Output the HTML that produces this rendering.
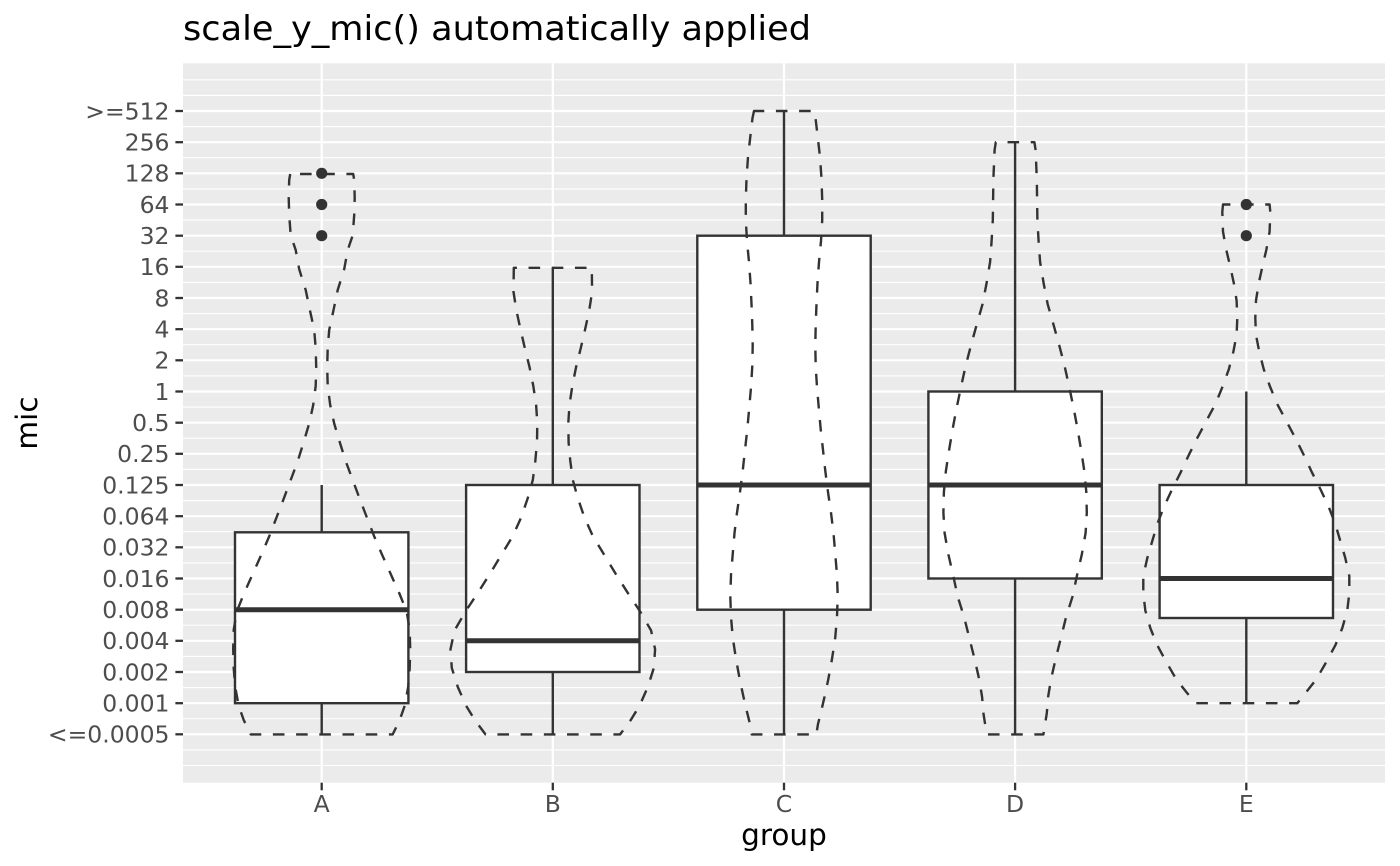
<!DOCTYPE html>
<html>
<head>
<meta charset="utf-8">
<style>
html,body{margin:0;padding:0;background:#fff;}
svg{display:block;}
text{font-family:"DejaVu Sans","Liberation Sans",sans-serif;}
</style>
</head>
<body>
<svg width="1400" height="866" viewBox="0 0 1400 866" xmlns="http://www.w3.org/2000/svg">
<rect x="0" y="0" width="1400" height="866" fill="#ffffff"/>
<!-- title -->
<text x="183" y="40" font-size="34" fill="#000" textLength="628" lengthAdjust="spacingAndGlyphs">scale_y_mic() automatically applied</text>

<!-- panel -->
<rect x="183" y="63.3" width="1202" height="719.4" fill="#EBEBEB"/>
<!-- minor grid -->
<g stroke="#ffffff" stroke-width="1.1">
<line x1="183" x2="1385" y1="79.8" y2="79.8"/>
<line x1="183" x2="1385" y1="95.4" y2="95.4"/>
<line x1="183" x2="1385" y1="126.6" y2="126.6"/>
<line x1="183" x2="1385" y1="157.7" y2="157.7"/>
<line x1="183" x2="1385" y1="188.9" y2="188.9"/>
<line x1="183" x2="1385" y1="220.1" y2="220.1"/>
<line x1="183" x2="1385" y1="251.2" y2="251.2"/>
<line x1="183" x2="1385" y1="282.4" y2="282.4"/>
<line x1="183" x2="1385" y1="313.6" y2="313.6"/>
<line x1="183" x2="1385" y1="344.7" y2="344.7"/>
<line x1="183" x2="1385" y1="375.9" y2="375.9"/>
<line x1="183" x2="1385" y1="407.1" y2="407.1"/>
<line x1="183" x2="1385" y1="438.2" y2="438.2"/>
<line x1="183" x2="1385" y1="469.4" y2="469.4"/>
<line x1="183" x2="1385" y1="500.6" y2="500.6"/>
<line x1="183" x2="1385" y1="531.7" y2="531.7"/>
<line x1="183" x2="1385" y1="562.9" y2="562.9"/>
<line x1="183" x2="1385" y1="594.1" y2="594.1"/>
<line x1="183" x2="1385" y1="625.2" y2="625.2"/>
<line x1="183" x2="1385" y1="656.4" y2="656.4"/>
<line x1="183" x2="1385" y1="687.6" y2="687.6"/>
<line x1="183" x2="1385" y1="718.7" y2="718.7"/>
<line x1="183" x2="1385" y1="749.9" y2="749.9"/>
<line x1="183" x2="1385" y1="765.5" y2="765.5"/>
</g>
<!-- major grid -->
<g stroke="#ffffff" stroke-width="2.2">
<line x1="183" x2="1385" y1="111.0" y2="111.0"/>
<line x1="183" x2="1385" y1="142.2" y2="142.2"/>
<line x1="183" x2="1385" y1="173.3" y2="173.3"/>
<line x1="183" x2="1385" y1="204.5" y2="204.5"/>
<line x1="183" x2="1385" y1="235.7" y2="235.7"/>
<line x1="183" x2="1385" y1="266.8" y2="266.8"/>
<line x1="183" x2="1385" y1="298.0" y2="298.0"/>
<line x1="183" x2="1385" y1="329.2" y2="329.2"/>
<line x1="183" x2="1385" y1="360.3" y2="360.3"/>
<line x1="183" x2="1385" y1="391.5" y2="391.5"/>
<line x1="183" x2="1385" y1="422.7" y2="422.7"/>
<line x1="183" x2="1385" y1="453.8" y2="453.8"/>
<line x1="183" x2="1385" y1="485.0" y2="485.0"/>
<line x1="183" x2="1385" y1="516.2" y2="516.2"/>
<line x1="183" x2="1385" y1="547.3" y2="547.3"/>
<line x1="183" x2="1385" y1="578.5" y2="578.5"/>
<line x1="183" x2="1385" y1="609.7" y2="609.7"/>
<line x1="183" x2="1385" y1="640.8" y2="640.8"/>
<line x1="183" x2="1385" y1="672.0" y2="672.0"/>
<line x1="183" x2="1385" y1="703.2" y2="703.2"/>
<line x1="183" x2="1385" y1="734.3" y2="734.3"/>
<line y1="63.3" y2="782.7" x1="321.7" x2="321.7"/>
<line y1="63.3" y2="782.7" x1="552.8" x2="552.8"/>
<line y1="63.3" y2="782.7" x1="784" x2="784"/>
<line y1="63.3" y2="782.7" x1="1015.1" x2="1015.1"/>
<line y1="63.3" y2="782.7" x1="1246.3" x2="1246.3"/>
</g>

<!-- boxplots -->
<g stroke="#333333" stroke-width="2.4" fill="#ffffff">
<!-- A -->
<line x1="321.7" x2="321.7" y1="485" y2="532.3"/>
<line x1="321.7" x2="321.7" y1="703.2" y2="734.3"/>
<rect x="235.0" y="532.3" width="173.4" height="170.9"/>
<line x1="235.0" x2="408.4" y1="609.7" y2="609.7" stroke-width="5"/>
<!-- B -->
<line x1="552.8" x2="552.8" y1="267.8" y2="485"/>
<line x1="552.8" x2="552.8" y1="672" y2="734.3"/>
<rect x="466.1" y="485" width="173.4" height="187"/>
<line x1="466.1" x2="639.5" y1="640.8" y2="640.8" stroke-width="5"/>
<!-- C -->
<line x1="784" x2="784" y1="111" y2="235.7"/>
<line x1="784" x2="784" y1="609.7" y2="734.3"/>
<rect x="697.3" y="235.7" width="173.4" height="374"/>
<line x1="697.3" x2="870.7" y1="485" y2="485" stroke-width="5"/>
<!-- D -->
<line x1="1015.1" x2="1015.1" y1="142.2" y2="391.5"/>
<line x1="1015.1" x2="1015.1" y1="578.5" y2="734.3"/>
<rect x="928.4" y="391.5" width="173.4" height="187"/>
<line x1="928.4" x2="1101.8" y1="485" y2="485" stroke-width="5"/>
<!-- E -->
<line x1="1246.3" x2="1246.3" y1="391.5" y2="485"/>
<line x1="1246.3" x2="1246.3" y1="618" y2="703.2"/>
<rect x="1159.6" y="485" width="173.4" height="133"/>
<line x1="1159.6" x2="1333" y1="578.5" y2="578.5" stroke-width="5"/>
</g>
<!-- outliers -->
<g fill="#333333">
<circle cx="321.7" cy="173.3" r="5.6"/>
<circle cx="321.7" cy="204.5" r="5.6"/>
<circle cx="321.7" cy="235.7" r="5.6"/>
<circle cx="1246.3" cy="204.5" r="5.6"/>
<circle cx="1246.3" cy="235.7" r="5.6"/>
</g>

<!-- violins -->
<g fill="none" stroke="#333333" stroke-width="2.4" stroke-dasharray="11.6 11.6" stroke-linejoin="round">
<path d="M290.2,174 L289.2,180 L288.7,197.7 L289.2,215 L290.7,235.3 L295.7,250 L299.2,269.2 L305.7,290 L310.0,310.6 L314.2,330 L315.7,348.3 L316.2,367 L315.7,385.9 L313.2,405 L309.2,423.5 L303.7,442 L297.7,461.2 L290.7,480 L283.7,498.8 L276.7,517 L269.2,536.4 L261.2,555 L252.7,574 L244.2,593 L236.7,611.7 L233.7,630 L233.2,649.3 L233.7,668 L235.2,686.9 L238.7,705.8 L243.7,720 L250.7,734.4 L392.7,734.4 L399.7,720 L404.7,705.8 L408.2,686.9 L409.7,668 L410.2,649.3 L409.7,630 L406.7,611.7 L399.2,593 L390.7,574 L382.2,555 L374.2,536.4 L366.7,517 L359.7,498.8 L352.7,480 L345.7,461.2 L339.7,442 L334.2,423.5 L330.2,405 L327.7,385.9 L327.2,367 L327.7,348.3 L329.2,330 L333.4,310.6 L337.7,290 L344.2,269.2 L347.7,250 L352.7,235.3 L354.2,215 L354.7,197.7 L354.2,180 L353.2,174 Z"/>
<path d="M513.8,267.8 L513.5,291.8 L516.3,310 L520.5,329.4 L524.8,348 L529.5,367 L533.3,386 L536.1,404.7 L537.3,423 L537.0,442.3 L535.3,461 L532.8,480 L527.8,498 L521.1,517.6 L512.8,536 L501.1,555.3 L489.8,574 L477.8,592.9 L465.8,611 L454.5,630.5 L450.5,649.3 L451.8,668 L457.8,687 L466.1,705.8 L474.8,720 L485.5,734.4 L620.1,734.4 L630.8,720 L639.5,705.8 L647.8,687 L653.8,668 L655.1,649.3 L651.1,630.5 L639.8,611 L627.8,592.9 L615.8,574 L604.5,555.3 L592.8,536 L584.5,517.6 L577.8,498 L572.8,480 L570.3,461 L568.6,442.3 L568.3,423 L569.5,404.7 L572.3,386 L576.1,367 L580.8,348 L585.1,329.4 L589.3,310 L592.1,291.8 L591.8,267.8 Z"/>
<path d="M754,111 L752.5,118 L750.3,136.8 L748,157 L746.5,178.5 L745.8,200 L745.8,220.3 L747,241 L749,262 L750.5,283 L751.5,303.9 L752.3,325 L752.7,345.6 L752.3,366 L751,387.4 L749.2,408 L747.3,429.2 L745,450 L742.7,470.9 L740,492 L737,512.7 L734.5,533 L732.7,554.5 L731,575 L730.3,596.3 L731,617 L732.8,638 L736,659 L739.8,679.8 L743.5,697 L747.3,713.2 L750,724 L751.7,734.4 L816.3,734.4 L818,724 L820.7,713.2 L824.5,697 L828.2,679.8 L832,659 L835.2,638 L837,617 L837.7,596.3 L837,575 L835.3,554.5 L833.5,533 L831,512.7 L828,492 L825.3,470.9 L823,450 L820.7,429.2 L818.8,408 L817,387.4 L815.7,366 L815.3,345.6 L815.7,325 L816.5,303.9 L817.5,283 L819,262 L821,241 L822.2,220.3 L822.2,200 L821.5,178.5 L820,157 L817.7,136.8 L815.5,118 L814,111 Z"/>
<path d="M995.8,142.2 L994.6,150 L993.4,178.5 L993.1,200 L992.8,220.3 L991.6,241 L990.1,262 L986.6,283 L982.6,303.9 L976.6,325 L970.9,345.6 L965.6,366 L960.9,387.4 L956.6,408 L952.6,429.2 L949.1,450 L945.9,470.9 L943.9,492 L943.4,512.7 L944.6,533 L948.4,554.5 L953.1,575 L957.6,596.3 L964.1,617 L969.3,638 L974.6,659 L979.3,679.8 L982.1,697 L983.4,713.2 L985.1,724 L986.8,734.4 L1043.4,734.4 L1045.1,724 L1046.8,713.2 L1048.1,697 L1050.9,679.8 L1055.6,659 L1060.9,638 L1066.1,617 L1072.6,596.3 L1077.1,575 L1081.8,554.5 L1085.6,533 L1086.8,512.7 L1086.3,492 L1084.3,470.9 L1081.1,450 L1077.6,429.2 L1073.6,408 L1069.3,387.4 L1064.6,366 L1059.3,345.6 L1053.6,325 L1047.6,303.9 L1043.6,283 L1040.1,262 L1038.6,241 L1037.4,220.3 L1037.1,200 L1036.8,178.5 L1035.6,150 L1034.4,142.2 Z"/>
<path d="M1223,204.5 L1222.3,212 L1223,231.7 L1226.3,250 L1230.1,266 L1233.8,283 L1236.6,300.5 L1237.3,318 L1236.6,335 L1233.3,352 L1228.8,369.4 L1222.8,386 L1215.5,403.8 L1206.3,421 L1197.1,438.3 L1188.8,455 L1180.5,472.7 L1171.8,490 L1163.8,507.1 L1157.3,524 L1152.1,541.6 L1147.3,558 L1143.3,576 L1143.3,593 L1145.3,610.4 L1150.3,628 L1157.1,644.9 L1166.3,662 L1176.3,679.3 L1186.3,692 L1195.3,703.2 L1297.3,703.2 L1306.3,692 L1316.3,679.3 L1326.3,662 L1335.5,644.9 L1342.3,628 L1347.3,610.4 L1349.3,593 L1349.3,576 L1345.3,558 L1340.5,541.6 L1335.3,524 L1328.8,507.1 L1320.8,490 L1312.1,472.7 L1303.8,455 L1295.5,438.3 L1286.3,421 L1277.1,403.8 L1269.8,386 L1263.8,369.4 L1259.3,352 L1256,335 L1255.3,318 L1256,300.5 L1258.8,283 L1262.5,266 L1266.3,250 L1269.6,231.7 L1270.3,212 L1269.6,204.5 Z"/>
</g>

<!-- axis ticks -->
<g stroke="#333333" stroke-width="2.3">
<line x1="175.4" x2="183" y1="111.0" y2="111.0"/>
<line x1="175.4" x2="183" y1="142.2" y2="142.2"/>
<line x1="175.4" x2="183" y1="173.3" y2="173.3"/>
<line x1="175.4" x2="183" y1="204.5" y2="204.5"/>
<line x1="175.4" x2="183" y1="235.7" y2="235.7"/>
<line x1="175.4" x2="183" y1="266.8" y2="266.8"/>
<line x1="175.4" x2="183" y1="298.0" y2="298.0"/>
<line x1="175.4" x2="183" y1="329.2" y2="329.2"/>
<line x1="175.4" x2="183" y1="360.3" y2="360.3"/>
<line x1="175.4" x2="183" y1="391.5" y2="391.5"/>
<line x1="175.4" x2="183" y1="422.7" y2="422.7"/>
<line x1="175.4" x2="183" y1="453.8" y2="453.8"/>
<line x1="175.4" x2="183" y1="485.0" y2="485.0"/>
<line x1="175.4" x2="183" y1="516.2" y2="516.2"/>
<line x1="175.4" x2="183" y1="547.3" y2="547.3"/>
<line x1="175.4" x2="183" y1="578.5" y2="578.5"/>
<line x1="175.4" x2="183" y1="609.7" y2="609.7"/>
<line x1="175.4" x2="183" y1="640.8" y2="640.8"/>
<line x1="175.4" x2="183" y1="672.0" y2="672.0"/>
<line x1="175.4" x2="183" y1="703.2" y2="703.2"/>
<line x1="175.4" x2="183" y1="734.3" y2="734.3"/>
<line y1="782.7" y2="790.3" x1="321.7" x2="321.7"/>
<line y1="782.7" y2="790.3" x1="552.8" x2="552.8"/>
<line y1="782.7" y2="790.3" x1="784" x2="784"/>
<line y1="782.7" y2="790.3" x1="1015.1" x2="1015.1"/>
<line y1="782.7" y2="790.3" x1="1246.3" x2="1246.3"/>
</g>

<!-- y tick labels -->
<g font-size="23.5" fill="#4D4D4D" text-anchor="end">
<text x="169.5" y="119.3">&gt;=512</text>
<text x="169.5" y="150.5">256</text>
<text x="169.5" y="181.6">128</text>
<text x="169.5" y="212.8">64</text>
<text x="169.5" y="244.0">32</text>
<text x="169.5" y="275.1">16</text>
<text x="169.5" y="306.3">8</text>
<text x="169.5" y="337.5">4</text>
<text x="169.5" y="368.6">2</text>
<text x="169.5" y="399.8">1</text>
<text x="169.5" y="431.0">0.5</text>
<text x="169.5" y="462.1">0.25</text>
<text x="169.5" y="493.3">0.125</text>
<text x="169.5" y="524.5">0.064</text>
<text x="169.5" y="555.6">0.032</text>
<text x="169.5" y="586.8">0.016</text>
<text x="169.5" y="618.0">0.008</text>
<text x="169.5" y="649.1">0.004</text>
<text x="169.5" y="680.3">0.002</text>
<text x="169.5" y="711.5">0.001</text>
<text x="169.5" y="742.6">&lt;=0.0005</text>
</g>
<!-- x tick labels -->
<g font-size="23.5" fill="#4D4D4D" text-anchor="middle">
<text x="321.7" y="812">A</text>
<text x="552.8" y="812">B</text>
<text x="784" y="812">C</text>
<text x="1015.1" y="812">D</text>
<text x="1246.3" y="812">E</text>
</g>
<!-- axis titles -->
<text x="784" y="845" font-size="29.5" fill="#000" text-anchor="middle">group</text>
<text transform="translate(37,423) rotate(-90)" font-size="29.5" fill="#000" text-anchor="middle">mic</text>
</svg>
</body>
</html>
